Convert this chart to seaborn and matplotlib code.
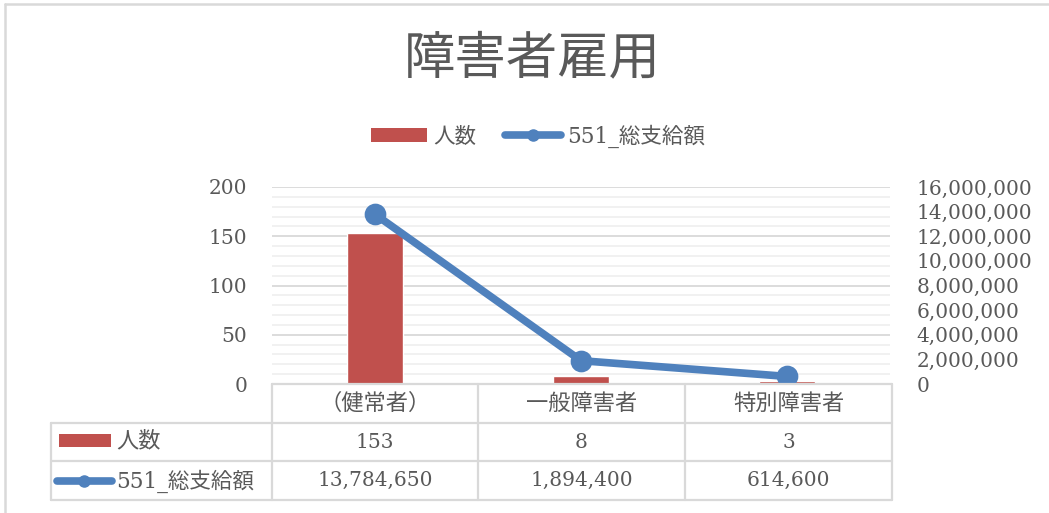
import matplotlib
matplotlib.use("Agg")
import matplotlib.pyplot as plt
from matplotlib.lines import Line2D
from matplotlib.patches import Patch, Rectangle
import seaborn as sns
import numpy as np
import pandas as pd

# ---- data ----
categories = ["（健常者）", "一般障害者", "特別障害者"]
counts = [153, 8, 3]
totals = [13784650, 1894400, 614600]
series_names = ["人数", "551_総支給額"]
title = "障害者雇用"
left_ticks = [0, 50, 100, 150, 200]
right_ticks = [0, 2000000, 4000000, 6000000, 8000000, 10000000, 12000000, 14000000, 16000000]

RED = "#C0504D"
BLUE = "#4F81BD"
TXT = "#595959"
GRID = "#D9D9D9"
MINOR = "#EDEDED"
SERIF = ["DejaVu Serif", "Noto Sans CJK JP"]
CJK = ["Noto Sans CJK JP", "DejaVu Serif"]

sns.set_theme(style="white")
plt.rcParams["font.family"] = SERIF

W, H = 1049, 513
fig = plt.figure(figsize=(W / 100, H / 100), dpi=100)

def fx(x):
    return x / W

def fy(y):
    return 1 - y / H

L, R, T, B = 272, 890, 187, 384
ax = fig.add_axes([fx(L), fy(B), fx(R) - fx(L), fy(T) - fy(B)])

df = pd.DataFrame({"cat": categories, "count": counts, "total": totals})
sns.barplot(data=df, x="cat", y="count", ax=ax, color=RED, width=0.27,
            saturation=1, zorder=3)
ax.set_ylim(0, 200)
ax.set_xlim(-0.5, 2.5)
ax.set_yticks(left_ticks)
ax.set_yticks(np.arange(0, 201, 10), minor=True)
ax.grid(axis="y", which="major", color=GRID, lw=1.3, zorder=0)
ax.grid(axis="y", which="minor", color=MINOR, lw=1.1, zorder=0)
ax.set_axisbelow(True)
ax.set_xlabel("")
ax.set_ylabel("")
ax.set_xticks([])
for s in ax.spines.values():
    s.set_visible(False)
ax.tick_params(axis="y", which="both", length=0, pad=18, labelsize=14.5,
               labelcolor=TXT)

ax2 = ax.twinx()
sns.pointplot(data=df, x="cat", y="total", ax=ax2, color=BLUE,
              markersize=11.5, linewidth=5.5, zorder=4)
ax2.set_ylim(0, 16000000)
ax2.set_xlim(-0.5, 2.5)
ax2.set_yticks(right_ticks)
ax2.set_yticklabels([f"{v:,}" for v in right_ticks])
ax2.set_xlabel("")
ax2.set_ylabel("")
ax2.set_xticks([])
ax2.grid(False)
for s in ax2.spines.values():
    s.set_visible(False)
ax2.tick_params(axis="y", length=0, pad=19, labelsize=14.5, labelcolor=TXT)
for lab in ax2.get_yticklabels():
    lab.set_horizontalalignment("left")

# ---- title ----
fig.text(fx(532), fy(59), title, ha="center", va="center", fontsize=37,
         color=TXT, family=CJK)

# ---- legend ----
handles = [Patch(facecolor=RED, edgecolor="none"),
           Line2D([0], [0], color=BLUE, lw=5.5, marker="o", markersize=8,
                  solid_capstyle="round")]
leg = fig.legend(handles, series_names, loc="center", ncol=2,
                 bbox_to_anchor=(fx(538), fy(136)), frameon=False,
                 handlelength=2.6, handleheight=0.6, handletextpad=0.3,
                 columnspacing=1.3, prop={"family": CJK, "size": 15.5})
for t in leg.get_texts():
    t.set_color(TXT)
    t.set_family(CJK if t.get_text() == series_names[0] else SERIF)

# ---- data table ----
cols = [272, 478, 685, 892]
rows = [384, 423, 461, 500]
tl = 51
tc = dict(color=GRID, lw=1.6, transform=fig.transFigure, zorder=1)
# horizontal lines
fig.add_artist(Line2D([fx(cols[0]), fx(cols[-1])], [fy(rows[0])] * 2, **tc))
for y in rows[1:]:
    fig.add_artist(Line2D([fx(tl), fx(cols[-1])], [fy(y)] * 2, **tc))
# vertical lines
for x in cols:
    fig.add_artist(Line2D([fx(x)] * 2, [fy(rows[0]), fy(rows[-1])], **tc))
fig.add_artist(Line2D([fx(tl)] * 2, [fy(rows[1]), fy(rows[-1])], **tc))

for i, c in enumerate(categories):
    xc = (cols[i] + cols[i + 1]) / 2
    fig.text(fx(xc), fy((rows[0] + rows[1]) / 2), c, ha="center", va="center",
             fontsize=16, color=TXT, family=CJK)
    fig.text(fx(xc), fy((rows[1] + rows[2]) / 2), f"{counts[i]:,}", ha="center",
             va="center", fontsize=14.5, color=TXT, family=SERIF)
    fig.text(fx(xc), fy((rows[2] + rows[3]) / 2), f"{totals[i]:,}", ha="center",
             va="center", fontsize=14.5, color=TXT, family=SERIF)

# row labels with legend keys
fig.add_artist(Rectangle((fx(59), fy(447)), fx(111) - fx(59), fy(434) - fy(447),
                         facecolor=RED, edgecolor="none",
                         transform=fig.transFigure))
fig.text(fx(116), fy(441), series_names[0], ha="left", va="center",
         fontsize=16, color=TXT, family=CJK)
ym = fy(481)
fig.add_artist(Line2D([fx(57), fx(112)], [ym, ym], color=BLUE, lw=5.5,
                      solid_capstyle="round", transform=fig.transFigure))
fig.add_artist(Line2D([fx(84)], [ym], color=BLUE, marker="o", markersize=8,
                      transform=fig.transFigure))
fig.text(fx(116), fy(481), series_names[1], ha="left", va="center",
         fontsize=15.5, color=TXT, family=SERIF)

# outer border (top and left visible)
bc = dict(color=GRID, lw=1.8, transform=fig.transFigure)
fig.add_artist(Line2D([fx(5), 1], [fy(4), fy(4)], **bc))
fig.add_artist(Line2D([fx(5), fx(5)], [fy(4), 0], **bc))

fig.savefig("out.png", dpi=100, facecolor="white")
